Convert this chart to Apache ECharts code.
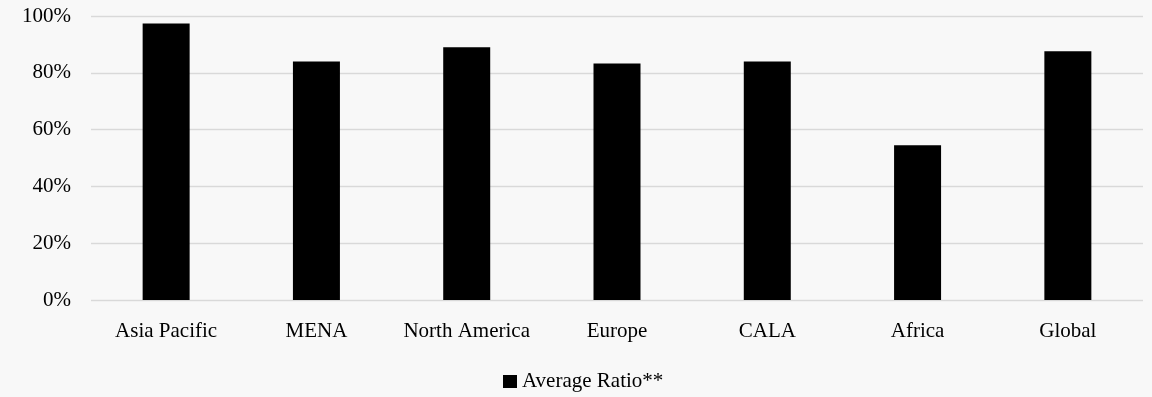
<!DOCTYPE html>
<html>
<head>
<meta charset="utf-8">
<script src="https://cdn.jsdelivr.net/npm/echarts@6/dist/echarts.min.js"></script>
<style>
  html, body { margin: 0; padding: 0; background: #f8f8f8; }
  #chart { width: 1152px; height: 397px; }
</style>
</head>
<body>
<div id="chart"></div>
<script>
// Average ratio by region (percent)
const regions = ['Asia Pacific', 'MENA', 'North America', 'Europe', 'CALA', 'Africa', 'Global'];
const averageRatio = [97.4, 84.0, 89.0, 83.3, 84.0, 54.5, 87.6];
const seriesName = 'Average Ratio**';
const yTicks = { min: 0, max: 100, interval: 20 };

const FONT = '"Liberation Serif", "DejaVu Serif", serif';
const FONT_SIZE = 21;

const chart = echarts.init(document.getElementById('chart'), null, { renderer: 'canvas' });
chart.setOption({
  backgroundColor: '#f8f8f8',
  animation: false,
  textStyle: { fontFamily: FONT, color: '#000' },
  grid: { left: 91, right: 9, top: 16, bottom: 97 },
  legend: {
    bottom: 5,
    left: 503,
    padding: 0,
    itemWidth: 14,
    itemHeight: 13,
    icon: 'rect',
    textStyle: { fontFamily: FONT, fontSize: FONT_SIZE, color: '#000' },
    data: [seriesName]
  },
  xAxis: {
    type: 'category',
    data: regions,
    axisLine: { show: false },
    axisTick: { show: false },
    axisLabel: { fontFamily: FONT, fontSize: FONT_SIZE, color: '#000', margin: 21, interval: 0 }
  },
  yAxis: {
    type: 'value',
    min: yTicks.min,
    max: yTicks.max,
    interval: yTicks.interval,
    axisLine: { show: false },
    axisTick: { show: false },
    splitLine: { lineStyle: { color: '#d9d9d9', width: 1.3 } },
    axisLabel: {
      fontFamily: FONT, fontSize: FONT_SIZE, color: '#000', margin: 20,
      formatter: v => v + '%'
    }
  },
  series: [{
    name: seriesName,
    type: 'bar',
    data: averageRatio,
    barWidth: 47,
    itemStyle: { color: '#000' }
  }]
});
</script>
</body>
</html>
